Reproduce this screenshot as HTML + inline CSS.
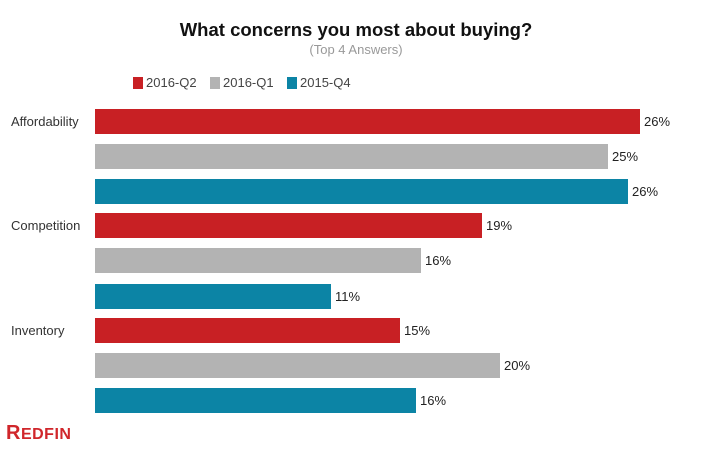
<!DOCTYPE html>
<html><head><style>
body{margin:0;width:722px;height:452px;background:#fff;font-family:"Liberation Sans",Arial,sans-serif;position:relative;overflow:hidden}
.a{position:absolute}
.bar{position:absolute;left:95px;height:25px}
.v{position:absolute;font-size:13px;color:#222}
.lab{position:absolute;left:11px;font-size:13px;color:#333}
.sq{position:absolute;width:10px;height:12px;top:77px}
.lt{position:absolute;top:75px;font-size:13px;color:#444}
</style></head><body>
<div class="a" style="left:0;width:712px;top:19px;text-align:center;font-weight:bold;font-size:18.5px;color:#111">What concerns you most about buying?</div>
<div class="a" style="left:0;width:712px;top:42px;text-align:center;font-size:13px;color:#999">(Top 4 Answers)</div>
<div class="sq" style="left:133px;background:#c82024"></div><div class="lt" style="left:146px">2016-Q2</div>
<div class="sq" style="left:210px;background:#b3b3b3"></div><div class="lt" style="left:223px">2016-Q1</div>
<div class="sq" style="left:287px;background:#0c84a5"></div><div class="lt" style="left:300px">2015-Q4</div>
<div class="lab" style="top:114px">Affordability</div>
<div class="lab" style="top:218px">Competition</div>
<div class="lab" style="top:323px">Inventory</div>
<div class="bar" style="top:109px;width:545px;background:#c82024"></div><div class="v" style="left:644px;top:114px">26%</div>
<div class="bar" style="top:144px;width:513px;background:#b3b3b3"></div><div class="v" style="left:612px;top:149px">25%</div>
<div class="bar" style="top:179px;width:533px;background:#0c84a5"></div><div class="v" style="left:632px;top:184px">26%</div>
<div class="bar" style="top:213px;width:387px;background:#c82024"></div><div class="v" style="left:486px;top:218px">19%</div>
<div class="bar" style="top:248px;width:326px;background:#b3b3b3"></div><div class="v" style="left:425px;top:253px">16%</div>
<div class="bar" style="top:284px;width:236px;background:#0c84a5"></div><div class="v" style="left:335px;top:289px">11%</div>
<div class="bar" style="top:318px;width:305px;background:#c82024"></div><div class="v" style="left:404px;top:323px">15%</div>
<div class="bar" style="top:353px;width:405px;background:#b3b3b3"></div><div class="v" style="left:504px;top:358px">20%</div>
<div class="bar" style="top:388px;width:321px;background:#0c84a5"></div><div class="v" style="left:420px;top:393px">16%</div>
<div class="a" style="left:6px;top:422px;font-size:20px;font-weight:bold;color:#d0262b;letter-spacing:0.5px">R<span style="font-size:16px">EDFIN</span></div>
</body></html>
